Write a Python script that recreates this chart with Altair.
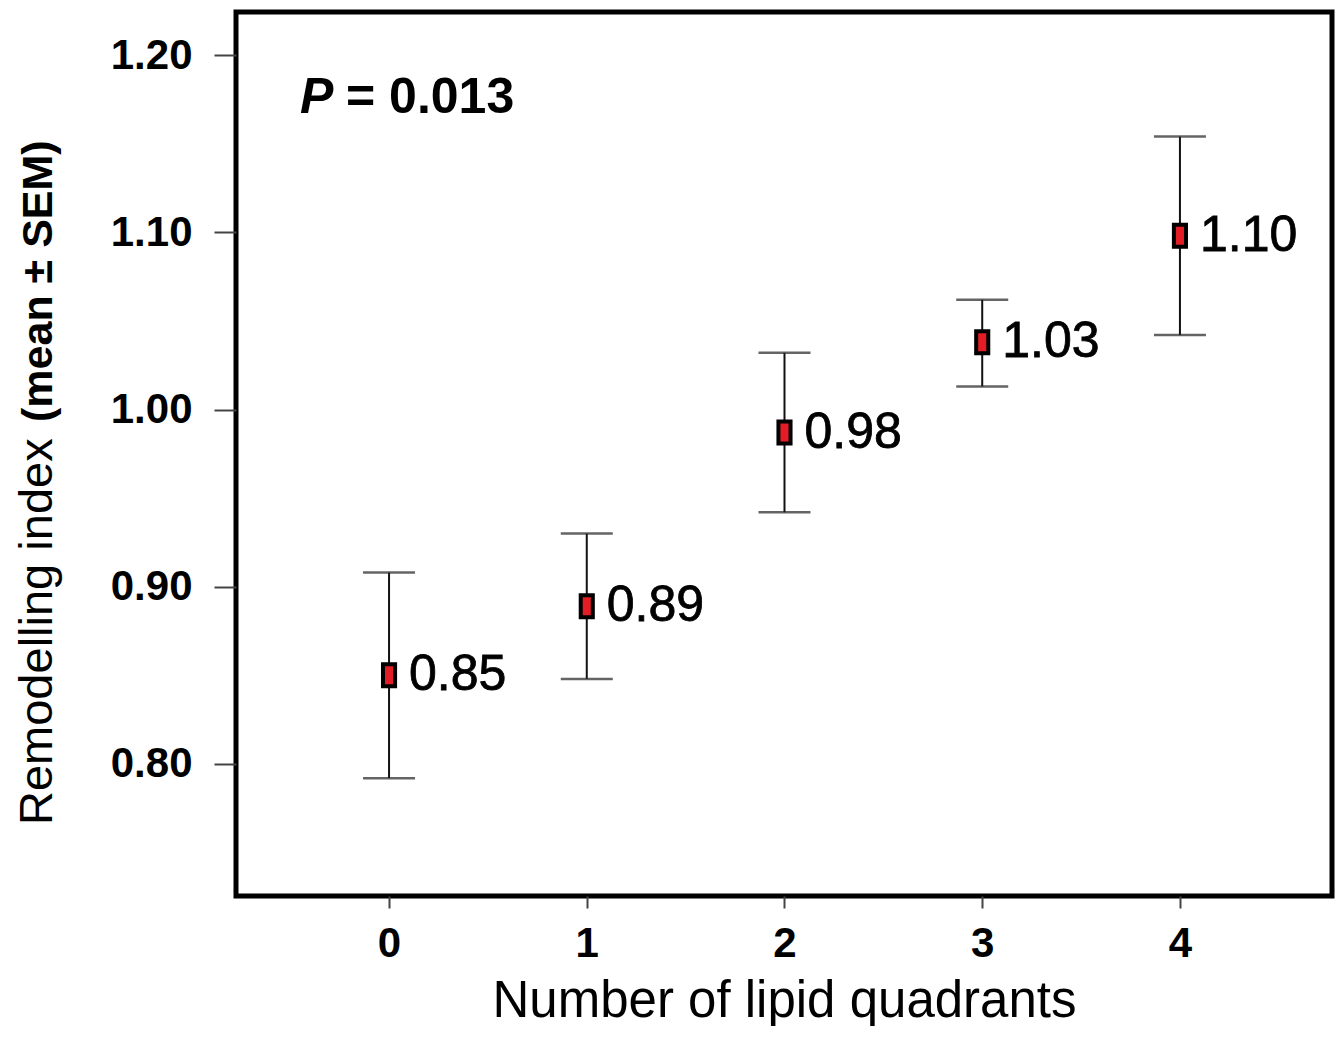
import altair as alt
import pandas as pd

quadrants = [0, 1, 2, 3, 4]
means = [0.850, 0.889, 0.987, 1.038, 1.098]
upper = [0.908, 0.930, 1.032, 1.062, 1.154]
lower = [0.792, 0.848, 0.942, 1.013, 1.042]
labels = ["0.85", "0.89", "0.98", "1.03", "1.10"]
y_ticks = [0.80, 0.90, 1.00, 1.10, 1.20]
x_ticks = [0, 1, 2, 3, 4]

df = pd.DataFrame(dict(q=quadrants, mean=means, hi=upper, lo=lower, label=labels))
one = pd.DataFrame({"a": [0]})

FONT = "Liberation Sans"

xs = alt.Scale(domain=[-0.774, 4.769], nice=False, zero=False)
ys = alt.Scale(domain=[0.7255, 1.2243], nice=False, zero=False)

x_enc = alt.X(
    "q:Q", scale=xs,
    axis=alt.Axis(values=x_ticks, format="d", title="Number of lipid quadrants",
                  tickSize=12, labelPadding=15, titlePadding=12, grid=False, domain=False),
)
y_axis = alt.Axis(values=y_ticks, format=".2f", title=None, tickSize=22,
                  labelPadding=22, grid=False, domain=False)

base = alt.Chart(df)

rules = base.mark_rule(color="#111", strokeWidth=2).encode(
    x=x_enc, y=alt.Y("lo:Q", scale=ys, axis=y_axis), y2="hi:Q"
)
caps = base.transform_fold(["hi", "lo"], as_=["k", "v"]).mark_tick(
    orient="horizontal", size=52, thickness=2.5, color="#222"
).encode(x=x_enc, y=alt.Y("v:Q", scale=ys, axis=y_axis))

marker_path = "M-0.55,-1L0.55,-1L0.55,1L-0.55,1Z"
points = base.mark_point(
    shape=marker_path, size=484, filled=True, fill="#e31d25",
    stroke="black", strokeWidth=4, opacity=1
).encode(x=x_enc, y=alt.Y("mean:Q", scale=ys, axis=y_axis))

texts = base.mark_text(
    align="left", baseline="middle", dx=20, fontSize=50, font=FONT, color="black",
    stroke="black", strokeWidth=0.8
).encode(x=x_enc, y=alt.Y("mean:Q", scale=ys, axis=y_axis), text="label:N")

p_italic = alt.Chart(one).mark_text(
    align="left", baseline="middle", fontSize=50, font=FONT,
    fontStyle="italic", fontWeight="bold", color="black"
).encode(x=alt.value(64), y=alt.value(86), text=alt.value("P"))
p_rest = alt.Chart(one).mark_text(
    align="left", baseline="middle", fontSize=50, font=FONT,
    fontWeight="bold", color="black"
).encode(x=alt.value(110), y=alt.value(86), text=alt.value("= 0.013"))

ytitle_a = alt.Chart(one).mark_text(
    align="left", baseline="alphabetic", angle=270, fontSize=47, font=FONT, color="black"
).encode(x=alt.value(-184), y=alt.value(813), text=alt.value("Remodelling index"))
ytitle_b = alt.Chart(one).mark_text(
    align="left", baseline="alphabetic", angle=270, fontSize=43, font=FONT,
    fontWeight="bold", color="black"
).encode(x=alt.value(-184), y=alt.value(410), text=alt.value("(mean ± SEM)"))

chart = alt.layer(rules, caps, points, texts, p_italic, p_rest, ytitle_a, ytitle_b).properties(
    width=1096, height=884,
    autosize=alt.AutoSizeParams(type="none"),
    padding={"left": 228, "top": 4, "right": 4, "bottom": 130},
).configure_view(
    stroke="black", strokeWidth=5
).configure_axis(
    labelFont=FONT, labelFontSize=42, labelFontWeight="bold", labelColor="black",
    titleFont=FONT, titleFontSize=51, titleFontWeight="normal", titleColor="black",
    tickColor="#444", tickWidth=2,
)

chart.save("out.html", embed_options={"renderer": "svg", "actions": False})
